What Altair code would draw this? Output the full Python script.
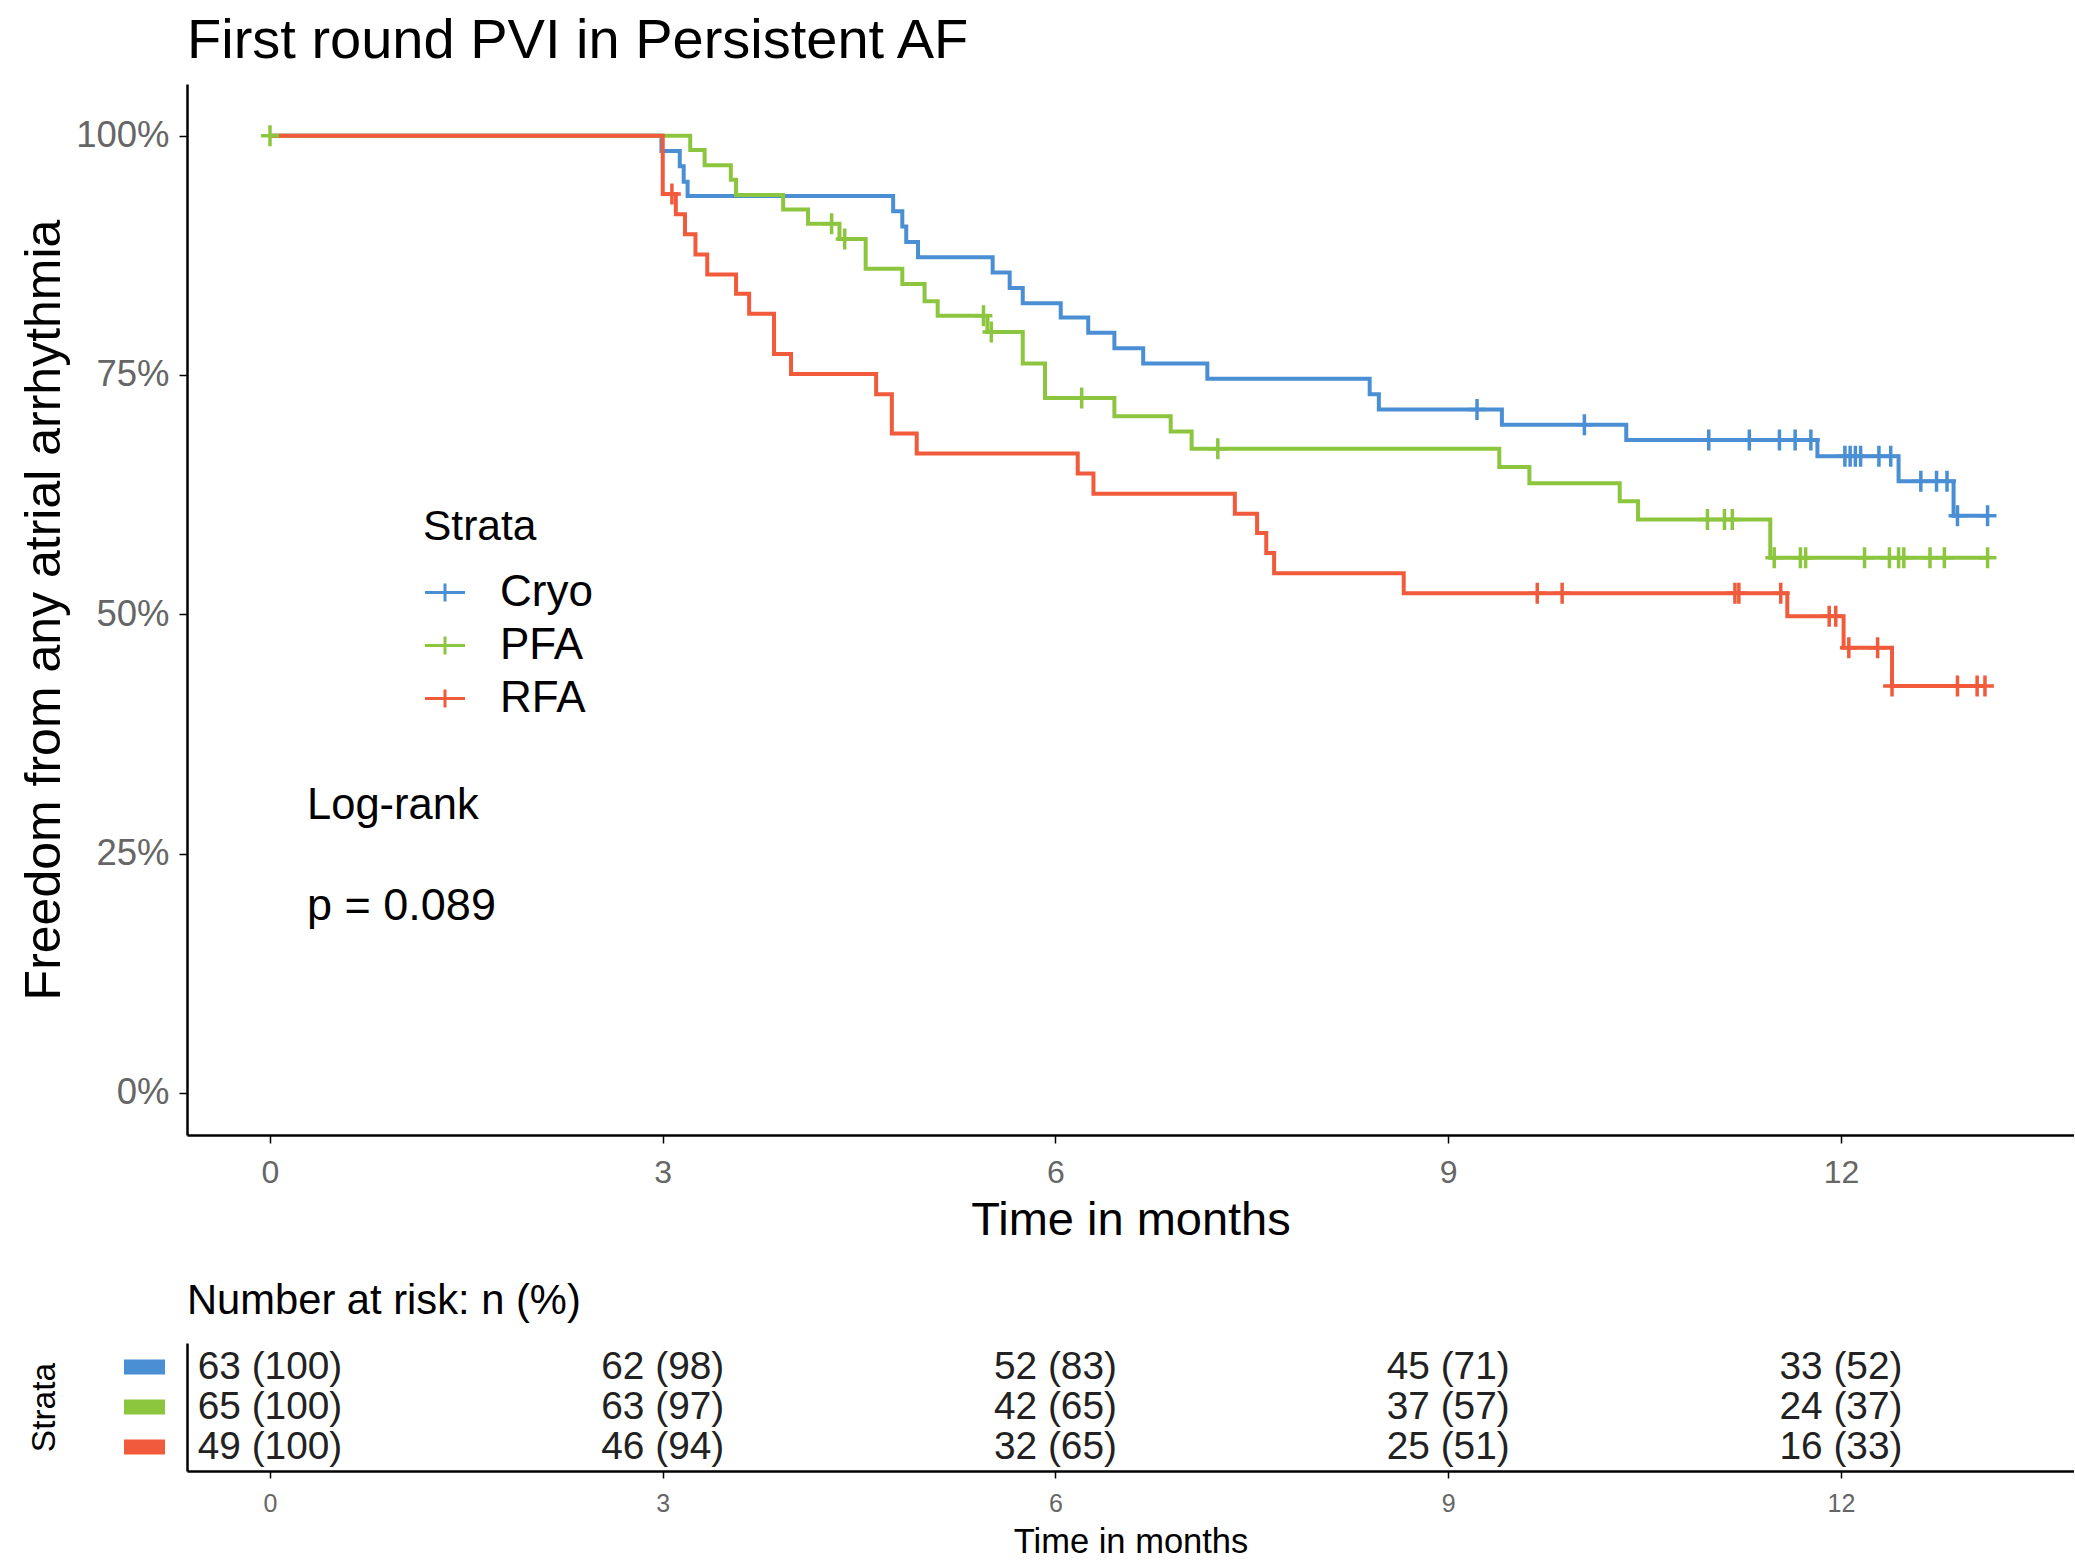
import altair as alt
import pandas as pd

FONT = "Liberation Sans"

# ---------------- data ----------------
groups = ["Cryo", "PFA", "RFA"]
colors = ["#4A8FD4", "#8CC63E", "#F15A3B"]

# Kaplan-Meier steps (time in months, survival in %)
cryo_t = [0, 2.99, 3.13, 3.16, 3.19, 4.76, 4.83, 4.86, 4.95, 5.52, 5.65, 5.75, 6.04, 6.25,
          6.45, 6.67, 7.16, 8.40, 8.47, 9.41, 10.36, 11.82, 12.44, 12.86, 13.12]
cryo_s = [100, 98.4, 96.8, 95.2, 93.7, 92.1, 90.5, 88.9, 87.3, 85.7, 84.1, 82.5, 81.0, 79.4,
          77.8, 76.2, 74.6, 73.0, 71.4, 69.8, 68.2, 66.5, 63.9, 60.3, 60.3]
cryo_cens = [9.22, 10.04, 10.99, 11.30, 11.53, 11.65, 11.77, 12.03, 12.07, 12.11, 12.15,
             12.29, 12.38, 12.61, 12.73, 12.81, 12.89, 13.12]

pfa_t = [0, 3.21, 3.32, 3.52, 3.56, 3.92, 4.11, 4.35, 4.55, 4.83, 5.00, 5.10, 5.48, 5.75,
         5.92, 6.45, 6.88, 7.04, 9.39, 9.62, 10.31, 10.45, 11.46, 13.12]
pfa_s = [100, 98.5, 96.9, 95.4, 93.8, 92.3, 90.8, 89.2, 86.1, 84.5, 82.7, 81.2, 79.5, 76.2,
         72.6, 70.7, 69.1, 67.3, 65.4, 63.7, 61.8, 59.9, 55.9, 55.9]
pfa_cens = [0, 4.29, 4.39, 5.45, 5.51, 6.20, 7.24, 10.98, 11.11, 11.17, 11.49, 11.69, 11.73,
            12.18, 12.37, 12.44, 12.48, 12.68, 12.79, 13.12]

rfa_t = [0, 3.00, 3.10, 3.17, 3.25, 3.34, 3.56, 3.66, 3.85, 3.98, 4.63, 4.75, 4.94, 6.17,
         6.29, 7.37, 7.54, 7.61, 7.67, 8.66, 11.59, 12.02, 12.39, 13.10]
rfa_s = [100, 93.9, 91.8, 89.7, 87.6, 85.5, 83.5, 81.4, 77.2, 75.1, 73.0, 68.9, 66.8, 64.7,
         62.6, 60.5, 58.5, 56.4, 54.3, 52.2, 49.8, 46.5, 42.5, 42.5]
rfa_cens = [3.07, 9.68, 9.87, 11.19, 11.22, 11.54, 11.91, 11.96, 12.06, 12.28, 12.39, 12.89,
            13.04, 13.10]

# number at risk table
risk_times = [0, 3, 6, 9, 12]
cryo_n = [63, 62, 52, 45, 33]
cryo_pct = [100, 98, 83, 71, 52]
pfa_n = [65, 63, 42, 37, 24]
pfa_pct = [100, 97, 65, 57, 37]
rfa_n = [49, 46, 32, 25, 16]
rfa_pct = [100, 94, 65, 51, 33]

annotations = ["Log-rank", "p = 0.089"]
x_ticks = [0, 3, 6, 9, 12]
y_ticks = [0, 25, 50, 75, 100]

# ---------------- build tables ----------------
def step_value(ts, ss, t):
    v = ss[0]
    for ti, si in zip(ts, ss):
        if ti <= t:
            v = si
        else:
            break
    return v

curve_rows, cens_rows, risk_rows, key_rows = [], [], [], []
series = [(cryo_t, cryo_s, cryo_cens, cryo_n, cryo_pct),
          (pfa_t, pfa_s, pfa_cens, pfa_n, pfa_pct),
          (rfa_t, rfa_s, rfa_cens, rfa_n, rfa_pct)]
for gi, (g, (ts, ss, cs, ns, ps)) in enumerate(zip(groups, series)):
    for i, (t, s) in enumerate(zip(ts, ss)):
        curve_rows.append({"group": g, "time": t, "surv": s, "order": i})
    for c in cs:
        cens_rows.append({"group": g, "time": c, "surv": step_value(ts, ss, c)})
    for t, n, p in zip(risk_times, ns, ps):
        risk_rows.append({"group": g, "row": gi + 1, "time": t, "label": f"{n} ({p})"})
    key_rows.append({"group": g, "row": gi + 1})

curves = pd.DataFrame(curve_rows)
cens = pd.DataFrame(cens_rows)
risk = pd.DataFrame(risk_rows)
keys = pd.DataFrame(key_rows)
ann = pd.DataFrame({"label": annotations})

X_DOM = [-0.634, 13.78]
Y_DOM = [-4.4, 105.4]
W = 1887
H = 1051
TICK_GREY = "#666666"

color_scale = alt.Scale(domain=groups, range=colors)
PLUS = "M-0.85,0L0.85,0M0,-1L0,1"
LEG_SYM = "M-1,0L1,0M0,-0.45L0,0.45"
BAR_SYM = "M-1,-0.37L1,-0.37L1,0.37L-1,0.37Z"

x_main = alt.X("time:Q", scale=alt.Scale(domain=X_DOM, nice=False, zero=False),
               axis=alt.Axis(values=x_ticks, format="d", title="Time in months",
                             titleFontSize=47, titlePadding=9, labelFontSize=32,
                             labelColor=TICK_GREY, labelPadding=14, tickSize=8, tickWidth=1.5,
                             domainWidth=2.5, labelFlush=False))
y_main = alt.Y("surv:Q", scale=alt.Scale(domain=Y_DOM, nice=False, zero=False),
               axis=alt.Axis(values=y_ticks, labelExpr="datum.value + '%'",
                             title="Freedom from any atrial arrhythmia", titleFontSize=50,
                             titlePadding=6, labelFontSize=36.5, labelColor=TICK_GREY,
                             labelPadding=10, tickSize=8, tickWidth=1.5, domainWidth=2.5,
                             labelFlush=False))

lines = alt.Chart(curves).mark_line(interpolate="step-after", strokeWidth=4).encode(
    x=x_main, y=y_main,
    color=alt.Color("group:N", scale=color_scale,
                    legend=alt.Legend(orient="none", legendX=236, legendY=422, title="Strata",
                                      titleFontSize=42.5, labelFontSize=44, titleColor="black",
                                      labelColor="black", symbolType=LEG_SYM, symbolSize=1600,
                                      symbolStrokeWidth=3, labelOffset=33, rowPadding=9,
                                      titlePadding=22, padding=0, titleFontWeight="normal")),
    order="order:Q")

marks = alt.Chart(cens).mark_point(shape=PLUS, filled=False, size=440, strokeWidth=3.5,
                                   opacity=1).encode(
    x="time:Q", y="surv:Q",
    color=alt.Color("group:N", scale=color_scale, legend=None))

t1 = alt.Chart(ann).transform_filter(alt.datum.label == annotations[0]).mark_text(
    align="left", baseline="middle", fontSize=43.5, font=FONT, color="black").encode(
    x=alt.value(120), y=alt.value(722), text="label:N")
t2 = alt.Chart(ann).transform_filter(alt.datum.label == annotations[1]).mark_text(
    align="left", baseline="middle", fontSize=45, font=FONT, color="black").encode(
    x=alt.value(120), y=alt.value(822), text="label:N")

main = alt.layer(lines, marks, t1, t2).properties(
    width=W, height=H,
    title=alt.TitleParams("First round PVI in Persistent AF", anchor="start", frame="group",
                          fontSize=56, fontWeight="normal", color="black", offset=14, font=FONT))

# ---------------- risk table ----------------
x_tab = alt.X("time:Q", scale=alt.Scale(domain=X_DOM, nice=False, zero=False),
              axis=alt.Axis(values=x_ticks, format="d", title="Time in months",
                            titleFontSize=34.5, titlePadding=9, labelFontSize=25,
                            labelColor=TICK_GREY, labelPadding=13, tickSize=7, tickWidth=1.5,
                            domainWidth=2.5, labelFlush=False))
y_tab = alt.Y("row:Q", scale=alt.Scale(domain=[0.4, 3.6], reverse=True, nice=False, zero=False),
              axis=alt.Axis(title="Strata", titleFontSize=33.5, labels=False, ticks=False,
                            domainWidth=2.5, titlePadding=126))

tab_text = alt.Chart(risk).mark_text(fontSize=38.8, font=FONT, color="#222222",
                                     baseline="middle").encode(
    x=x_tab, y=y_tab, text="label:N")
tab_keys = alt.Chart(keys).mark_point(shape=BAR_SYM, filled=True, size=1681, opacity=1,
                                      strokeWidth=0).encode(
    x=alt.value(-42.5), y="row:Q",
    color=alt.Color("group:N", scale=color_scale, legend=None))

table = alt.layer(tab_text, tab_keys).properties(
    width=W, height=128,
    title=alt.TitleParams("Number at risk: n (%)", anchor="start", frame="group", fontSize=41.7,
                          fontWeight="normal", color="black", offset=20, font=FONT))

chart = alt.vconcat(main, table, spacing=38).properties(
    padding={"left": 19, "top": 13, "right": 0, "bottom": 0},
    background="white"
).configure_view(stroke=None).configure_axis(
    grid=False, domainColor="black", tickColor="black", labelFont=FONT, titleFont=FONT,
    titleFontWeight="normal", titleColor="black"
).configure_legend(labelFont=FONT, titleFont=FONT)

chart.save("out.html", embed_options={"renderer": "svg", "actions": False})
